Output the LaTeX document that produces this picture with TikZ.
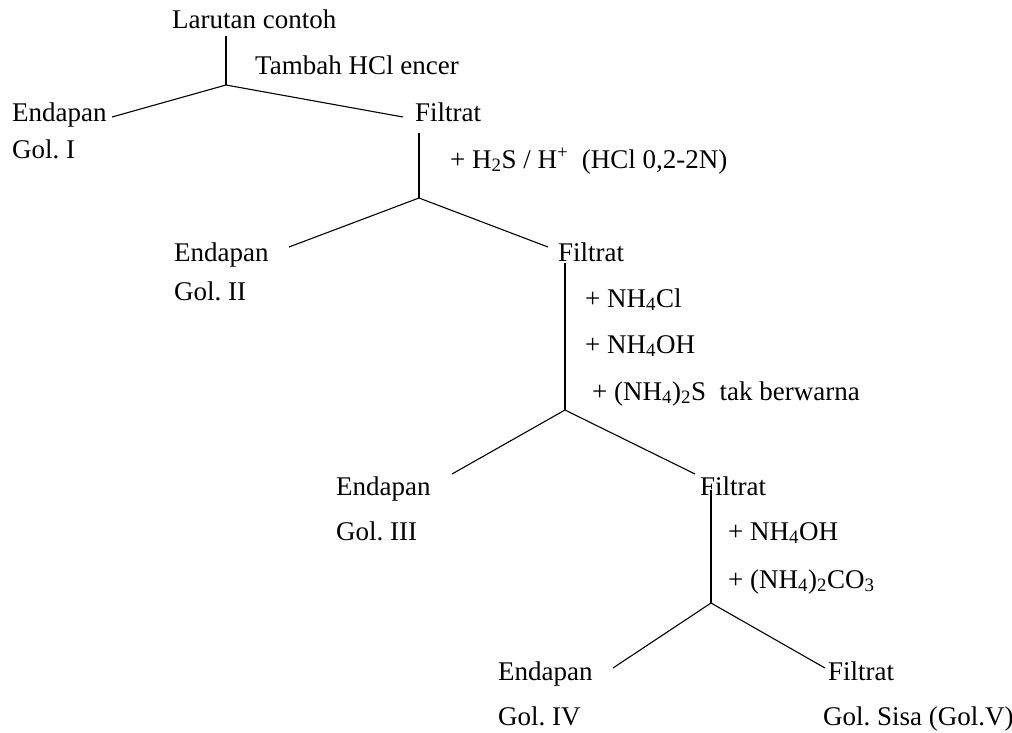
\documentclass[tikz,border=0pt]{standalone}
\usepackage{fontspec}
\setmainfont{Liberation Serif}
\frenchspacing
\tikzset{lbl/.style={anchor=base west, inner sep=0pt, font=\fontsize{27}{32}\selectfont}}
\begin{document}
\begin{tikzpicture}[x=1pt,y=-1pt]
\useasboundingbox (0,0) rectangle (1012,732);
% level 1
\node[lbl] (lar) at (172,28) {Larutan contoh};
\node[lbl] (hcl) at (255,74) {Tambah HCl encer};
\node[lbl] (end1) at (12,121) {Endapan};
\node[lbl] (fil1) at (415,121) {Filtrat};
\node[lbl] (gol1) at (12,158) {Gol. I};
\coordinate (t1) at (226,36);
\coordinate (j1) at (226,85);
\coordinate (e1) at (112,117);
\coordinate (f1) at (403,117);
\path[draw,line width=1.1pt,-] (t1) -- (j1);
\path[draw,line width=1.1pt,-] (j1) -- (e1);
\path[draw,line width=1.1pt,-] (j1) -- (f1);
% level 2
\node[lbl] (hs) at (450,168) {+ H\textsubscript{2}S / H\textsuperscript{+}\ \ (HCl 0,2-2N)};
\node[lbl] (end2) at (174,261) {Endapan};
\node[lbl] (fil2) at (558,261) {Filtrat};
\node[lbl] (gol2) at (174,300) {Gol. II};
\coordinate (t2) at (419,133);
\coordinate (j2) at (419,198);
\coordinate (e2) at (289,247);
\coordinate (f2) at (548,247);
\path[draw,line width=1.1pt,-] (t2) -- (j2);
\path[draw,line width=1.1pt,-] (j2) -- (e2);
\path[draw,line width=1.1pt,-] (j2) -- (f2);
% level 3
\node[lbl] (cl) at (585,307) {+ NH\textsubscript{4}Cl};
\node[lbl] (oh1) at (585,353) {+ NH\textsubscript{4}OH};
\node[lbl] (sul) at (592,400) {+ (NH\textsubscript{4})\textsubscript{2}S\ \ tak berwarna};
\node[lbl] (end3) at (336,495) {Endapan};
\node[lbl] (fil3) at (700,495) {Filtrat};
\node[lbl] (gol3) at (336,540) {Gol. III};
\coordinate (t3) at (565,263);
\coordinate (j3) at (565,410);
\coordinate (e3) at (452,474);
\coordinate (f3) at (695,474);
\path[draw,line width=1.1pt,-] (t3) -- (j3);
\path[draw,line width=1.1pt,-] (j3) -- (e3);
\path[draw,line width=1.1pt,-] (j3) -- (f3);
% level 4
\node[lbl] (oh2) at (728,540) {+ NH\textsubscript{4}OH};
\node[lbl] (co) at (728,588) {+ (NH\textsubscript{4})\textsubscript{2}CO\textsubscript{3}};
\node[lbl] (end4) at (498,680) {Endapan};
\node[lbl] (fil4) at (828,680) {Filtrat};
\node[lbl] (gol4) at (498,725) {Gol. IV};
\node[lbl] (gol5) at (823,725) {Gol. Sisa (Gol.V)};
\coordinate (t4) at (711,490);
\coordinate (j4) at (711,603);
\coordinate (e4) at (613,668);
\coordinate (f4) at (825,668);
\path[draw,line width=1.1pt,-] (t4) -- (j4);
\path[draw,line width=1.1pt,-] (j4) -- (e4);
\path[draw,line width=1.1pt,-] (j4) -- (f4);
\end{tikzpicture}
\end{document}
